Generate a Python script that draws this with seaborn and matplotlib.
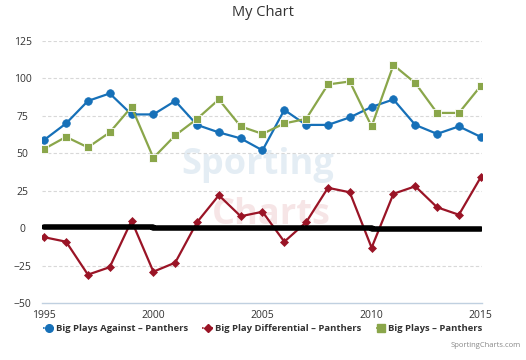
import matplotlib
matplotlib.use("Agg")
import matplotlib.pyplot as plt
import seaborn as sns
import pandas as pd
from matplotlib.lines import Line2D

years = list(range(1995, 2016))
big_plays_against = [59, 70, 85, 90, 76, 76, 85, 69, 64, 60, 52, 79, 69, 69, 74, 81, 86, 69, 63, 68, 61]
big_play_differential = [-6, -9, -31, -26, 5, -29, -23, 4, 22, 8, 11, -9, 4, 27, 24, -13, 23, 28, 14, 9, 34]
big_plays = [53, 61, 54, 64, 81, 47, 62, 73, 86, 68, 63, 70, 73, 96, 98, 68, 109, 97, 77, 77, 95]
series_names = ["Big Plays Against – Panthers", "Big Play Differential – Panthers", "Big Plays – Panthers"]
zero_x = [1995, 2000, 2000, 2010, 2010, 2015]
zero_y = [0.8, 0.8, 0.1, 0.1, -0.4, -0.4]
y_ticks = [-50, -25, 0, 25, 50, 75, 100, 125]
x_ticks = [1995, 2000, 2005, 2010, 2015]

colors = ["#1670b8", "#9a1426", "#8aa64a"]
markers = ["o", "D", "s"]
msizes = [5.5, 4, 6]

sns.set_theme(style="white")
plt.rcParams["font.family"] = ["Open Sans", "DejaVu Sans"]

fig = plt.figure(figsize=(5.26, 3.6), dpi=100)
ax = fig.add_axes([0.080, 0.158, 0.836, 0.728])

ax.text(2004.8, 42, "Sporting", fontsize=26, fontweight="bold", color="#c4d8e8", alpha=0.45, ha="center", va="center", zorder=0)
ax.text(2005.4, 9, "Charts", fontsize=26, fontweight="bold", color="#ecc6c9", alpha=0.45, ha="center", va="center", zorder=0)

df = pd.DataFrame({"year": years, series_names[0]: big_plays_against,
                   series_names[1]: big_play_differential, series_names[2]: big_plays})
for name, c, m, ms in zip(series_names, colors, markers, msizes):
    sns.lineplot(data=df, x="year", y=name, ax=ax, color=c, marker=m, markersize=ms,
                 markeredgecolor=c if m != "s" else "white", markeredgewidth=0.6 if m == "s" else 0.5,
                 linewidth=1.6, zorder=3)

ax.plot(zero_x, zero_y, color="black", linewidth=4, solid_capstyle="round", zorder=4)

ax.set_xlim(1994.9, 2015.05)
ax.set_ylim(-50, 125)
ax.set_yticks(y_ticks)
ax.set_xticks(x_ticks)
ax.set_xlabel("")
ax.set_ylabel("")
for yv in y_ticks[1:]:
    ax.axhline(yv, color="#d8d8d8", linewidth=0.8, linestyle=(0, (3, 2)), zorder=1)
for s in ["top", "right", "left"]:
    ax.spines[s].set_visible(False)
ax.spines["bottom"].set_color("#c0d0e0")
ax.spines["bottom"].set_linewidth(1)
ax.tick_params(axis="x", length=5, width=1, color="#c0d0e0", labelsize=7.5, labelcolor="#333333", pad=0, direction="out")
ax.tick_params(axis="y", length=0, labelsize=7.5, labelcolor="#333333", pad=14)
for lab in ax.get_yticklabels():
    lab.set_horizontalalignment("center")

fig.text(0.5, 0.965, "My Chart", ha="center", va="center", fontsize=10.5, color="#333333")

handles = [Line2D([0], [0], color=c, marker=m, markersize=ms, linestyle=(0, (1, 1)), linewidth=1.2,
                  markeredgecolor=c) for c, m, ms in zip(colors, markers, msizes)]
leg = fig.legend(handles, series_names, loc="center", bbox_to_anchor=(0.5, 0.088), ncol=3, frameon=False,
                 prop={"size": 6.8, "weight": "bold"}, handlelength=1.1, handletextpad=0.25, columnspacing=1.5)
for t in leg.get_texts():
    t.set_color("#333333")

fig.text(0.99, 0.04, "SportingCharts.com", ha="right", va="center", fontsize=5.5, color="#888888")

fig.savefig("out.png", dpi=100)
